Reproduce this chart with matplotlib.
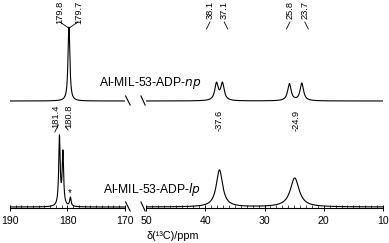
import numpy as np
import matplotlib
matplotlib.use("Agg")
import matplotlib.pyplot as plt

plt.rcParams['font.family'] = ['Liberation Sans', 'DejaVu Sans']

# ---- data (peak lists: ppm, height, FWHM) ----
np_pos = [179.8, 179.7, 38.1, 37.1, 25.8, 23.7]
np_height = [40.0, 40.0, 17.0, 17.0, 17.0, 17.5]
np_width = [0.35, 0.35, 0.7, 0.7, 0.7, 0.7]

lp_pos = [181.4, 180.8, 179.5, 37.6, 24.9]
lp_height = [69.0, 53.0, 9.0, 37.0, 29.0]
lp_width = [0.3, 0.3, 0.3, 1.3, 1.8]

np_offset = 106.0
lp_offset = 0.0

sample_labels = ["Al-MIL-53-ADP-$np$", "Al-MIL-53-ADP-$lp$"]

left_range = (190, 170)
right_range = (50, 10)
left_ticks = [190, 180, 170]
right_ticks = [50, 40, 30, 20, 10]

# peak annotations: text, label x (ppm)
top_labels = [("179.8", 181.4), ("179.7", 178.1)]
top_right_labels = [("38.1", 39.2), ("37.1", 36.8), ("25.8", 25.7), ("23.7", 23.2)]
mid_labels_left = [("181.4", 182.0), ("180.8", 179.8)]
mid_labels_right = [("-37.6", 37.7), ("-24.9", 24.7)]

W, H, DPI = 389, 243, 100


def spectrum(x, pos, hts, wid):
    y = np.zeros_like(x)
    for p, h, w in zip(pos, hts, wid):
        g = w / 2.0
        y += h / (1.0 + ((x - p) / g) ** 2)
    return y


fig = plt.figure(figsize=(W / DPI, H / DPI), dpi=DPI)
ax1 = fig.add_axes([10 / W, 35 / H, (125 - 10) / W, 208 / H])
ax2 = fig.add_axes([146 / W, 35 / H, (383 - 146) / W, 208 / H])

x1 = np.linspace(190, 170, 3000)
x2 = np.linspace(50, 10, 3000)
for ax, xx, rng, ticks in [(ax1, x1, left_range, left_ticks), (ax2, x2, right_range, right_ticks)]:
    ax.plot(xx, np_offset + spectrum(xx, np_pos, np_height, np_width), color='black', lw=0.8)
    ax.plot(xx, lp_offset + spectrum(xx, lp_pos, lp_height, lp_width), color='black', lw=0.8)
    ax.set_xlim(*rng)
    ax.set_ylim(-1, 207)
    ax.set_xticks(ticks)
    ax.set_xticks(np.arange(min(rng), max(rng) + 1, 1), minor=True)
    ax.set_yticks([])
    for s in ['top', 'left', 'right']:
        ax.spines[s].set_visible(False)
    ax.spines['bottom'].set_linewidth(0.8)
    ax.tick_params(axis='x', which='major', direction='inout', length=4, width=0.7,
                   labelsize=7.6, pad=3.5)
    ax.tick_params(axis='x', which='minor', direction='in', length=2, width=0.5)
    ax.patch.set_visible(False)

# break marks
for yb in [np_offset, lp_offset]:
    ax1.plot([169.9, 169.1], [yb + 5, yb - 4], color='black', lw=0.8, clip_on=False)
    ax2.plot([50.85, 50.15], [yb + 5, yb - 4], color='black', lw=0.8, clip_on=False)

# sample labels
ax2.text(49.3, np_offset + 18, sample_labels[0], fontsize=8.7, ha='center', va='center')
ax2.text(49.0, lp_offset + 18, sample_labels[1], fontsize=8.7, ha='center', va='center')
ax1.text(179.55, 14, "*", fontsize=7, ha='center', va='center')

fs = 6.7
# top labels over np peak
for (t, xl) in top_labels:
    ax1.text(xl, 206, t, rotation=90, fontsize=fs, ha='center', va='top')
ax1.plot([181.3, 179.8], [185, 179], color='black', lw=0.6)
ax1.plot([178.2, 179.7], [185, 179], color='black', lw=0.6)
for (t, xl) in top_right_labels:
    ax2.text(xl, 206, t, rotation=90, fontsize=fs, ha='center', va='top')
for (t, xl), dx in zip(top_right_labels, [0.6, -0.6, 0.6, -0.6]):
    ax2.plot([xl, xl + dx], [185, 178], color='black', lw=0.6)
# mid labels
for (t, xl) in mid_labels_left:
    ax1.text(xl, 102, t, rotation=90, fontsize=fs, ha='center', va='top')
ax1.plot([182.2, 181.6], [75, 82], color='black', lw=0.6)
ax1.plot([180.3, 179.9], [80, 77], color='black', lw=0.6)
for (t, xl) in mid_labels_right:
    ax2.text(xl, 97, t, rotation=90, fontsize=fs, ha='center', va='top')

fig.text(173 / W, 1 - 236 / H, "\u03b4(\u00b9\u00b3C)/ppm", fontsize=7.8, ha='center', va='center')

fig.savefig("out.png", dpi=DPI)
